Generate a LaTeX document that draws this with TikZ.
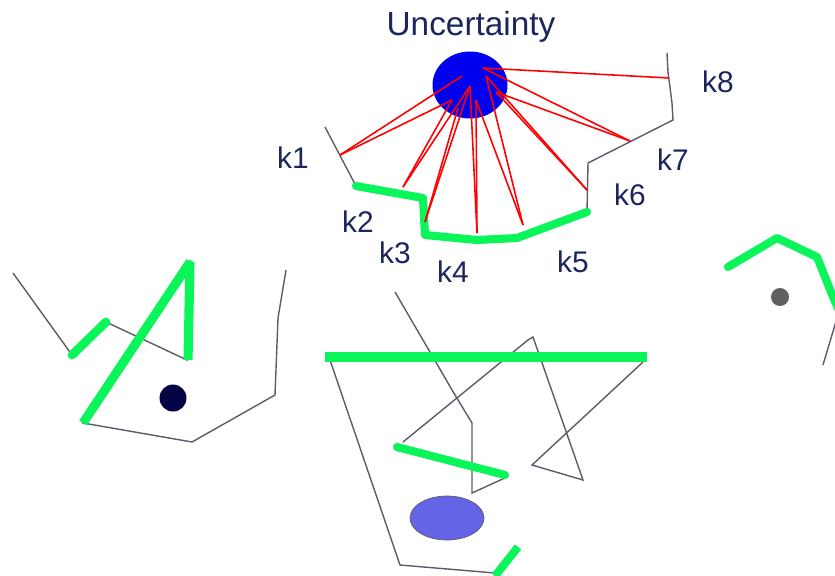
\documentclass[tikz,border=0pt]{standalone}
\usepackage{xcolor}
\usepackage{fontspec}
\setmainfont{Liberation Sans}
\usepackage{tikz}
\usetikzlibrary{shapes.geometric}

\definecolor{navytext}{RGB}{28,38,92}
\definecolor{brightgreen}{RGB}{10,245,90}
\definecolor{wiregray}{RGB}{95,90,105}
\definecolor{dotnavy}{RGB}{5,5,70}
\definecolor{lightblue}{RGB}{100,100,230}

\begin{document}
\begin{tikzpicture}[
    x=0.02cm, y=-0.02cm,
    wire/.style={draw=wiregray, line width=0.8pt},
    band/.style={draw=brightgreen, line width=4.6pt, line join=round, line cap=round},
    fan/.style={draw=red, line width=0.9pt},
    lbl/.style={text=navytext, inner sep=0pt, font=\fontsize{17}{19}\selectfont}
]
\useasboundingbox (0,0) rectangle (835,575);

% top contour
\draw[wire] (325,127) -- (356,186) -- (423,198) -- (425,235) -- (477,240) -- (517,238)
    -- (587,212) -- (588,163) -- (673,120) -- (672,103) -- (668,72) -- (667,53);
\draw[band] (356,186) -- (423,198) -- (425,235) -- (477,240) -- (517,238) -- (587,212);

% left shape
\draw[wire] (13,273) -- (72,355) -- (106,322) -- (187,360) -- (190,262) -- (83,423)
    -- (192,442) -- (275,395) -- (278,318) -- (286,270);
\draw[band, line width=5pt] (72,355) -- (106,322);
\draw[band, line width=5.2pt, line cap=butt, line join=bevel] (188,360) -- (190,262) -- (83,423);
\node[circle, fill=dotnavy, minimum size=0.54cm, inner sep=0pt] (dotleft) at (173,398) {};

% centre shape
\draw[wire] (395,292) -- (455,395) -- (472,423) -- (472,493) -- (507,477);
\draw[wire] (403,442) -- (528,340) -- (533,337) -- (583,480) -- (532,465) -- (643,362);
\draw[wire] (330,360) -- (400,565) -- (495,573);
\draw[band] (397,447) -- (505,475);
\draw[band, line width=5.6pt, line cap=butt] (325,357) -- (647,357);
\draw[band, line cap=butt] (495,576) -- (518,547);
\node[ellipse, draw=wiregray, fill=lightblue, minimum width=1.48cm, minimum height=0.88cm,
    inner sep=0pt] (blob) at (447,518) {};

% right shape
\draw[band] (728,267) -- (777,238) -- (817,257) -- (833,297) -- (840,312);
\draw[wire] (823,365) -- (837,318);
\node[circle, fill=gray!75!black, minimum size=0.36cm, inner sep=0pt] (dotright) at (780,297) {};

% uncertainty
\node[ellipse, fill=blue!94!black, minimum width=1.5cm, minimum height=1.34cm, inner sep=0pt] (unc) at (470,85) {};
\node[lbl, font=\fontsize{19}{21}\selectfont] (title) at (471,27) {Uncertainty};

\coordinate (s1) at (462,76);
\coordinate (s2) at (452,100);
\coordinate (s3) at (470,86);
\coordinate (s4) at (458,108);
\coordinate (s5) at (476,100);
\coordinate (s6) at (486,76);
\coordinate (s7) at (496,92);
\coordinate (s8) at (483,68);

\coordinate (p1) at (340,155);
\coordinate (p2) at (403,187);
\coordinate (p3) at (425,222);
\coordinate (p4) at (477,233);
\coordinate (p5) at (523,225);
\coordinate (p6) at (587,190);
\coordinate (p7) at (630,141);
\coordinate (p8) at (669,78);

\foreach \s/\p in {s1/p1,s2/p1,s3/p2,s2/p2,s3/p3,s4/p3,s3/p4,s5/p4,
                   s6/p5,s5/p5,s6/p6,s7/p6,s8/p7,s7/p7,s8/p8}
    \draw[fan] (\s) -- (\p);

\node[lbl] (k1) at (293,158) {k1};
\node[lbl] (k2) at (358,222) {k2};
\node[lbl] (k3) at (395,253) {k3};
\node[lbl] (k4) at (453,272) {k4};
\node[lbl] (k5) at (573,262) {k5};
\node[lbl] (k6) at (630,195) {k6};
\node[lbl] (k7) at (673,160) {k7};
\node[lbl] (k8) at (718,82) {k8};
\end{tikzpicture}
\end{document}
